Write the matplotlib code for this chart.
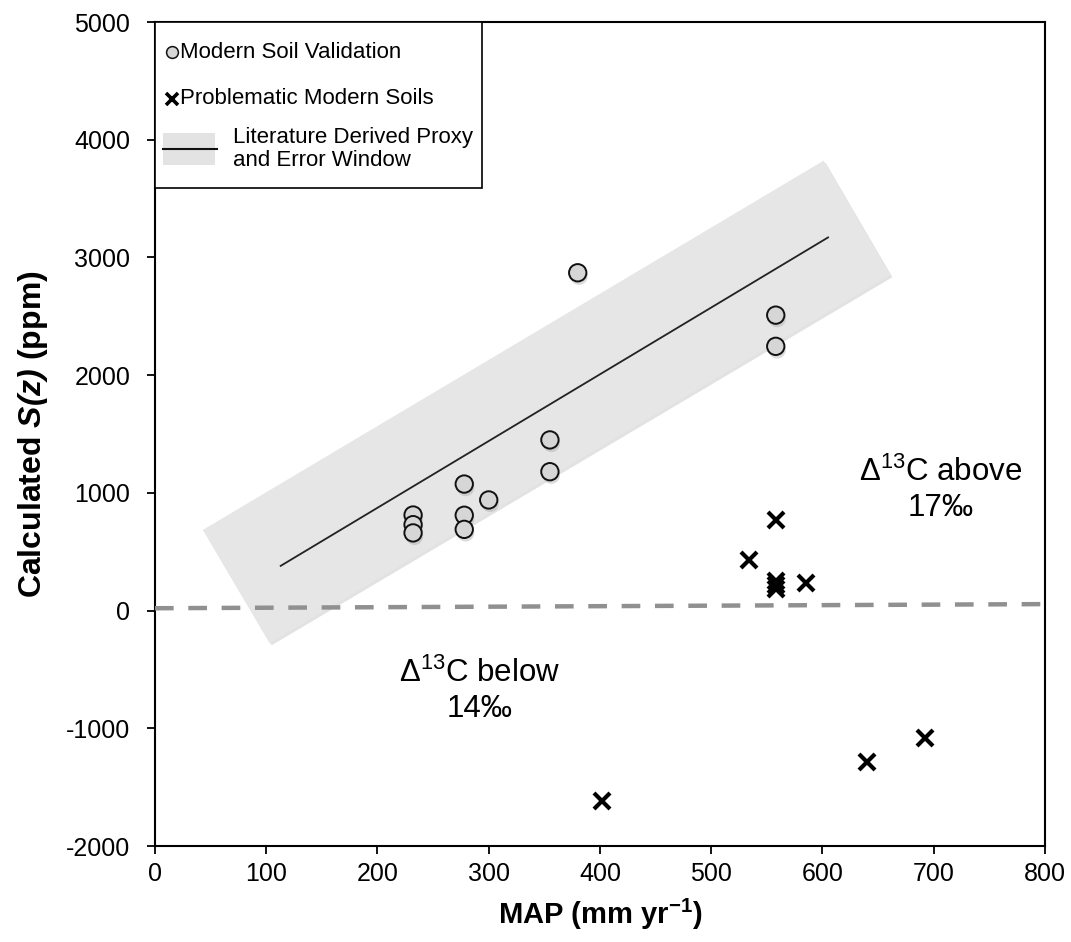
import numpy as np
import matplotlib.pyplot as plt
import matplotlib.patheffects as pe
from matplotlib.patches import Polygon, Rectangle

plt.rcParams['font.family'] = ['Liberation Sans', 'DejaVu Sans']
plt.rcParams['axes.unicode_minus'] = False
plt.rcParams['mathtext.fontset'] = 'custom'
plt.rcParams['mathtext.rm'] = 'Liberation Sans'
plt.rcParams['mathtext.it'] = 'Liberation Sans:italic'
plt.rcParams['mathtext.bf'] = 'Liberation Sans:bold'
plt.rcParams['mathtext.bfit'] = 'Liberation Sans:italic:bold'

# Modern soil validation data (MAP in mm/yr, calculated S(z) in ppm)
valid_map = [232, 232, 232, 278, 278, 278, 300, 355, 355, 380, 558, 558]
valid_sz = [812, 730, 660, 1075, 810, 690, 940, 1450, 1180, 2870, 2510, 2245]

# Problematic modern soils
prob_map = [534, 558, 558, 558, 558, 585, 402, 640, 692]
prob_sz = [430, 770, 250, 220, 180, 235, -1620, -1290, -1080]

# Literature derived proxy line and its error window
proxy_map = [113, 605]
proxy_sz = [380, 3170]
window_map = [43, 103, 661, 601]
window_sz = [685, -277, 2850, 3822]

# Zero reference line
zero_map = [0, 800]
zero_sz = [20, 55]

fig = plt.figure(figsize=(10.71, 9.42), dpi=100)
ax = fig.add_axes([0.1447, 0.1019, 0.831, 0.8747])

window = Polygon(np.column_stack([window_map, window_sz]), closed=True,
                 facecolor='#e6e6e6', edgecolor='none', zorder=1,
                 path_effects=[pe.SimplePatchShadow(offset=(1.5, -1.5), shadow_rgbFace='#cfcfcf', alpha=0.6),
                               pe.Normal()])
ax.add_patch(window)

ax.plot(proxy_map, proxy_sz, color='#222222', lw=1.3, zorder=2)

ax.plot(zero_map, zero_sz, color='#909090', lw=3.2, dashes=(4.2, 3.3), zorder=3)

shadow = [pe.SimplePatchShadow(offset=(1, -2.5), shadow_rgbFace='#999999', alpha=0.35), pe.Normal()]
ax.plot(valid_map, valid_sz, 'o', ms=12.5, mfc='#d6d6d6', mec='#111111', mew=1.4,
        zorder=4, path_effects=shadow)
ax.plot(prob_map, prob_sz, 'x', ms=12, mec='black', mew=3, zorder=5)

ax.text(706, 1025, '$\\Delta^{13}$C above\n17‰', fontsize=22.5, ha='center', va='center',
        linespacing=1.2)
ax.text(292, -680, '$\\Delta^{13}$C below\n14‰', fontsize=22.5, ha='center', va='center',
        linespacing=1.2)

ax.set_xlim(0, 800)
ax.set_ylim(-2000, 5000)
ax.set_xticks(np.arange(0, 801, 100))
ax.set_yticks(np.arange(-2000, 5001, 1000))
ax.tick_params(axis='both', direction='out', length=5.8, width=1.3, labelsize=18)
ax.tick_params(axis='x', pad=6)
ax.tick_params(axis='y', pad=12)
for s in ax.spines.values():
    s.set_linewidth(1.5)

ax.set_xlabel('MAP (mm yr$^{\\mathbf{-1}}$)', fontsize=21, fontweight='bold')
ax.set_ylabel('Calculated $\\mathbfit{S(z)}$ (ppm)', fontsize=23, fontweight='bold')
ax.xaxis.set_label_coords(0.5, -0.062)
ax.yaxis.set_label_coords(-0.118, 0.5)

# legend box drawn by hand in axes coordinates
ta = ax.transAxes
ax.add_patch(Rectangle((0, 0.7985), 0.367, 0.2015, transform=ta, facecolor='white',
                       edgecolor='black', lw=1.2, zorder=6))
ax.plot([0.019], [0.9636], 'o', ms=8.5, mfc='#d6d6d6', mec='#111111', mew=1.1,
        transform=ta, zorder=7, clip_on=False)
ax.text(0.028, 0.9636, 'Modern Soil Validation', transform=ta, fontsize=16,
        va='center', ha='left', zorder=7)
ax.plot([0.019], [0.907], 'x', ms=8, mec='black', mew=2.6, transform=ta, zorder=7, clip_on=False)
ax.text(0.028, 0.907, 'Problematic Modern Soils', transform=ta, fontsize=16,
        va='center', ha='left', zorder=7)
ax.add_patch(Rectangle((0.009, 0.8265), 0.0584, 0.0388, transform=ta, facecolor='#e3e3e3',
                       edgecolor='none', zorder=7))
ax.plot([0.009, 0.070], [0.8459, 0.8459], color='#111111', lw=1.5, transform=ta, zorder=8)
ax.text(0.0876, 0.8459, 'Literature Derived Proxy\nand Error Window', transform=ta,
        fontsize=16, va='center', ha='left', linespacing=1.1, zorder=7)

fig.savefig('out.png', dpi=100)
